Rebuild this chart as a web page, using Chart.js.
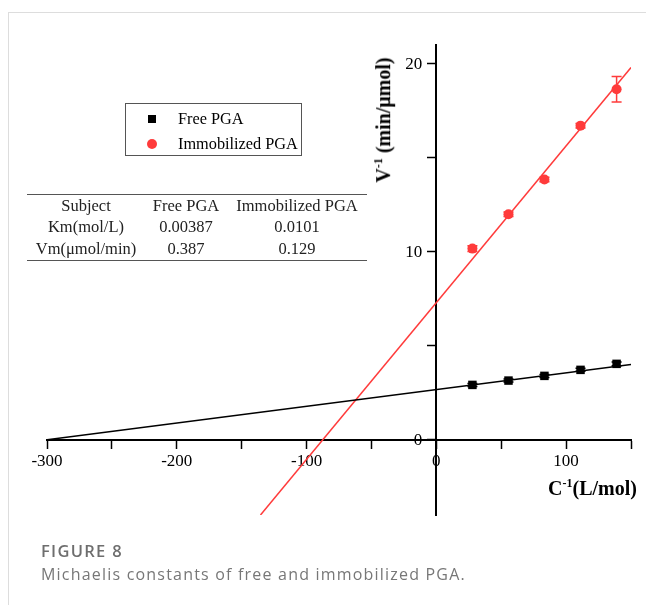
<!DOCTYPE html>
<html>
<head>
<meta charset="utf-8">
<script src="https://cdn.jsdelivr.net/npm/chart.js@4"></script>
<style>
  body { margin: 0; width: 646px; height: 605px; background: #fff; position: relative; overflow: hidden; font-family: "Liberation Serif", serif; }
  #frame { position: absolute; left: 8px; top: 12px; width: 800px; height: 800px; border-top: 1px solid #ddd; border-left: 1px solid #ddd; }
  #wrap { position: absolute; left: 0; top: 0; width: 646px; height: 605px; }
  .abs { position: absolute; white-space: nowrap; color: #000; }
  #legend { position: absolute; left: 125px; top: 103px; width: 175px; height: 51px; border: 1px solid #555; }
  #legend .row { position: absolute; left: 0; width: 100%; height: 20px; line-height: 20px; font-size: 16.3px; }
  #legend .txt { position: absolute; left: 52px; }
  #legend .sq { position: absolute; left: 22px; top: 6px; width: 8px; height: 8px; background: #000; }
  #legend .ci { position: absolute; left: 21px; top: 5px; width: 10px; height: 10px; border-radius: 50%; background: #ff3b3b; }
  #tbl { position: absolute; left: 27px; top: 194px; border-collapse: collapse; font-size: 16.5px; color: #222; border-top: 1.5px solid #555; border-bottom: 1.5px solid #555; }
  #tbl td { padding: 0; height: 21.5px; line-height: 20px; text-align: center; }
  .ttl { font-weight: bold; font-size: 20px; }
  .ttl sup { font-size: 12px; }
  #cap1 { left: 41px; top: 539px; font-family: "Open Sans", sans-serif; font-weight: 600; font-size: 16.5px; letter-spacing: 1.3px; color: #6e6e6e; }
  #cap2 { left: 41px; top: 563px; font-family: "Open Sans", sans-serif; font-size: 16px; letter-spacing: 1.2px; color: #777; }
</style>
</head>
<body>
<div id="frame"></div>
<div id="wrap"><canvas id="chart" width="646" height="605"></canvas></div>

<div id="legend">
  <div class="row" style="top:5px"><span class="sq"></span><span class="txt">Free PGA</span></div>
  <div class="row" style="top:30px"><span class="ci"></span><span class="txt">Immobilized PGA</span></div>
</div>

<table id="tbl">
  <tr><td style="width:118px">Subject</td><td style="width:82px">Free PGA</td><td style="width:140px">Immobilized PGA</td></tr>
  <tr><td>Km(mol/L)</td><td>0.00387</td><td>0.0101</td></tr>
  <tr><td>Vm(μmol/min)</td><td>0.387</td><td>0.129</td></tr>
</table>

<div class="abs ttl" id="ytitle" style="left:383px;top:120px;transform:translate(-50%,-50%) rotate(-90deg);">V<sup>-1</sup> (min/μmol)</div>
<div class="abs ttl" id="xtitle" style="right:9px;top:476px;">C<sup>-1</sup>(L/mol)</div>

<div class="abs" id="cap1">FIGURE 8</div>
<div class="abs" id="cap2">Michaelis constants of free and immobilized PGA.</div>

<script>
// DATA
const concInv = [27.8, 55.6, 83.3, 111.1, 138.9];
const freeV = [2.92, 3.15, 3.40, 3.72, 4.04];
const freeErr = [0.08, 0.08, 0.08, 0.08, 0.1];
const immV = [10.17, 12.0, 13.85, 16.71, 18.65];
const immErr = [0.15, 0.12, 0.12, 0.12, 0.68];

// fitted lines (end points)
const freeFitX = [-300, 150];
const freeFitY = [0, 4.0];
const immFitX = [-135.5, 150];
const immFitY = [-4, 19.8];

// axes
const xTicks = [-300, -250, -200, -150, -100, -50, 0, 50, 100, 150];
const xLabels = ['-300', '', '-200', '', '-100', '', '0', '', '100', ''];
const yTicks = [0, 5, 10, 15, 20];
const yLabels = ['0', '', '10', '', '20'];

const RED = '#ff3b3b';
const tickFont = { family: 'Liberation Serif', size: 17 };

function pts(xs, ys) {
    return xs.map((x, i) => ({ x: x, y: ys[i] }));
}

// ERROR BARS
const errorBars = {
    id: 'errorBars',
    afterDatasetsDraw(chart) {
        const ctx = chart.ctx;
        const xs = chart.scales.x, ys = chart.scales.y;
        chart.data.datasets.forEach(ds => {
            if (!ds.errors) return;
            ctx.save();
            ctx.strokeStyle = ds.backgroundColor;
            ctx.lineWidth = 1.5;
            ds.data.forEach((p, i) => {
                const e = ds.errors[i];
                const px = xs.getPixelForValue(p.x);
                const top = ys.getPixelForValue(p.y + e);
                const bot = ys.getPixelForValue(p.y - e);
                ctx.beginPath();
                ctx.moveTo(px, top); ctx.lineTo(px, bot);
                ctx.moveTo(px - 5, top); ctx.lineTo(px + 5, top);
                ctx.moveTo(px - 5, bot); ctx.lineTo(px + 5, bot);
                ctx.stroke();
            });
            ctx.restore();
        });
    }
};

// Y TICK LABELS (the centred y axis puts them on top of the line otherwise)
const yTickLabels = {
    id: 'yTickLabels',
    afterDraw(chart) {
        const ctx = chart.ctx;
        const x0 = chart.scales.x.getPixelForValue(0);
        ctx.save();
        ctx.font = tickFont.size + 'px ' + tickFont.family;
        ctx.fillStyle = '#000';
        ctx.textAlign = 'right';
        ctx.textBaseline = 'middle';
        yTicks.forEach((v, i) => {
            if (!yLabels[i]) return;
            ctx.fillText(yLabels[i], x0 - 14, chart.scales.y.getPixelForValue(v) + 1);
        });
        ctx.restore();
    }
};

function axisOpts(min, max, ticks, labels, pos, showLabels) {
    return {
        type: 'linear',
        min: min,
        max: max,
        position: pos,
        border: { display: true, color: '#000', width: 2 },
        grid: { drawOnChartArea: false, drawTicks: true, tickLength: 8, tickColor: '#000', tickWidth: 1.5 },
        afterBuildTicks: scale => { scale.ticks = ticks.map(v => ({ value: v })); },
        ticks: {
            display: showLabels,
            color: '#000',
            font: tickFont,
            padding: 4,
            maxRotation: 0,
            autoSkip: false,
            callback: v => {
                const i = ticks.indexOf(v);
                return i >= 0 ? labels[i] : '';
            }
        }
    };
}

new Chart(document.getElementById('chart'), {
    type: 'scatter',
    data: {
        datasets: [
            {
                type: 'line', data: pts(freeFitX, freeFitY), borderColor: '#000', borderWidth: 1.5,
                pointRadius: 0, fill: false
            },
            {
                type: 'line', data: pts(immFitX, immFitY), borderColor: RED, borderWidth: 1.5,
                pointRadius: 0, fill: false
            },
            {
                label: 'Free PGA', data: pts(concInv, freeV), errors: freeErr,
                backgroundColor: '#000', borderColor: '#000', pointStyle: 'rect', pointRadius: 6, borderWidth: 0
            },
            {
                label: 'Immobilized PGA', data: pts(concInv, immV), errors: immErr,
                backgroundColor: RED, borderColor: RED, pointStyle: 'circle', pointRadius: 5, borderWidth: 0
            }
        ]
    },
    options: {
        responsive: false,
        animation: false,
        layout: { padding: { left: 47, right: 15, top: 45, bottom: 90 } },
        plugins: { legend: { display: false }, tooltip: { enabled: false } },
        scales: {
            x: axisOpts(-300, 150, xTicks, xLabels, { y: 0 }, true),
            y: axisOpts(-4, 21, yTicks, yLabels, { x: 0 }, false)
        }
    },
    plugins: [errorBars, yTickLabels]
});
</script>
</body>
</html>
